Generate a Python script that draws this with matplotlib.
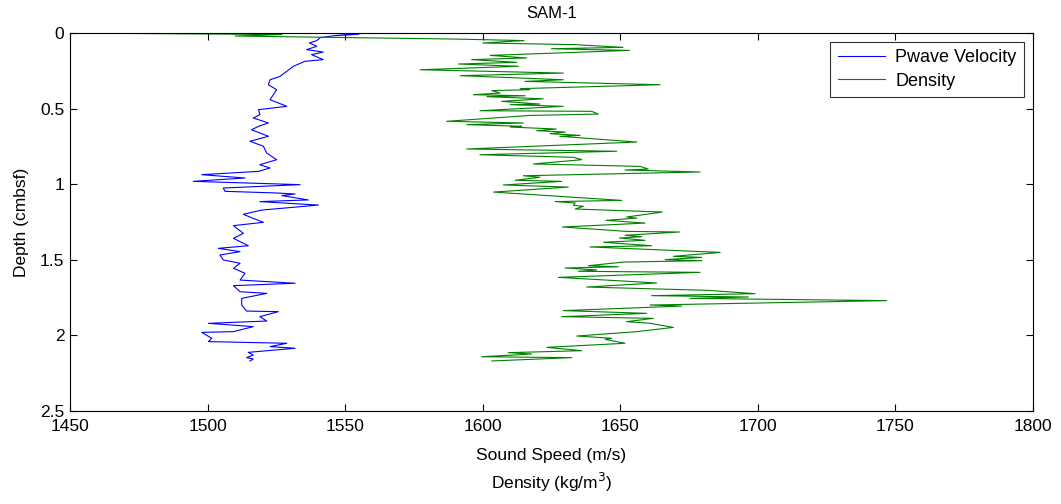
import matplotlib
matplotlib.use("Agg")
import matplotlib.pyplot as plt

plt.rcParams['font.family'] = ['Liberation Sans', 'DejaVu Sans']

# Pwave velocity profile (m/s) vs depth (cmbsf)
pwave_speed = [1540, 1555, 1546, 1541, 1539.7, 1537, 1539.7, 1536, 1542, 1537.8, 1542, 1535.4,
               1531.2, 1528.8, 1526.3, 1522.7, 1522.1, 1525.1, 1523.9, 1522.7, 1528.8, 1518.5,
               1519, 1516.6, 1522.1, 1518.5, 1516, 1522.1, 1515.4, 1520.3, 1521.5, 1525.1, 1519,
               1522.7, 1518.5, 1497.9, 1513.6, 1494.8, 1533.6, 1505.7, 1506.3, 1525.1, 1531.8,
               1527, 1536.6, 1519, 1540.3, 1519.7, 1513, 1516.6, 1520.3, 1509.4, 1513, 1509.4,
               1514.8, 1503.9, 1511.8, 1504.5, 1505.7, 1511.8, 1509.4, 1513.6, 1511.8, 1531.8,
               1509.4, 1511.8, 1521.5, 1512.4, 1512.4, 1514.2, 1525.7, 1519, 1521.5, 1500.3,
               1516.6, 1509.4, 1497.9, 1501.5, 1500.3, 1528.8, 1522.7, 1531.8, 1514.8, 1516.6,
               1514.2, 1516.6, 1515.4]
pwave_depth = [0.0, 0.008, 0.018, 0.03, 0.05, 0.066, 0.088, 0.11, 0.126, 0.143, 0.176, 0.187,
               0.22, 0.253, 0.287, 0.309, 0.342, 0.375, 0.408, 0.441, 0.485, 0.507,
               0.54, 0.562, 0.595, 0.617, 0.64, 0.683, 0.716, 0.749, 0.794, 0.838, 0.871,
               0.893, 0.915, 0.937, 0.959, 0.981, 1.003, 1.025, 1.047, 1.058, 1.065,
               1.075, 1.104, 1.115, 1.138, 1.171, 1.199, 1.226, 1.252, 1.274, 1.325, 1.358,
               1.407, 1.424, 1.446, 1.468, 1.501, 1.523, 1.556, 1.589, 1.634, 1.655,
               1.671, 1.711, 1.722, 1.755, 1.799, 1.839, 1.843, 1.876, 1.905, 1.92,
               1.942, 1.975, 1.98, 2.019, 2.041, 2.052, 2.074, 2.085, 2.112, 2.13,
               2.147, 2.156, 2.169]

# Density profile (kg/m^3) vs depth (cmbsf)
density_val = [1450, 1527, 1510, 1590, 1615, 1600, 1633.6, 1651, 1625, 1653.3, 1602.7, 1616,
               1596, 1612.4, 1591.2, 1613, 1577.2, 1629.3, 1591.8, 1629.3, 1615.4, 1664.5,
               1613.6, 1617.2, 1603.3, 1606.3, 1596.6, 1615.4, 1601.5, 1622, 1606.9, 1620.8,
               1610, 1629.3, 1599, 1639.6, 1642, 1617.2, 1586.9, 1614.8, 1594.2, 1614.2, 1610,
               1626.7, 1619.6, 1630, 1624.5, 1635.4, 1628, 1656, 1594.2, 1648.7, 1599, 1633,
               1636, 1618.4, 1657.2, 1660.2, 1651.7, 1679, 1614.8, 1620.8, 1611.8, 1628.7,
               1607.5, 1631.1, 1603.9, 1650.5, 1626.3, 1633.6, 1633, 1636.6, 1633.6, 1665.3,
               1652.3, 1656, 1644.8, 1659, 1629, 1652.3, 1671.5, 1651.7, 1657.8, 1649.7, 1659,
               1643.9, 1661.4, 1639, 1686.3, 1669.3, 1679.6, 1666.3, 1679.6, 1651.1, 1638.4,
               1649.3, 1629.9, 1641.4, 1634.8, 1679, 1627.5, 1663.2, 1637.8, 1682, 1699,
               1661.4, 1696.6, 1675.4, 1746.8, 1660.8, 1672.3, 1629.3, 1659.6, 1628.7, 1662,
               1652.3, 1660.8, 1669.3, 1656, 1634.2, 1646.9, 1644.5, 1651.7, 1623.3, 1636,
               1609.3, 1617.8, 1599.6, 1632.4, 1603.3]
density_depth = [0.0, 0.01, 0.02, 0.04, 0.05, 0.066, 0.077, 0.095, 0.104, 0.115, 0.148, 0.165,
                 0.176, 0.194, 0.205, 0.22, 0.243, 0.265, 0.282, 0.309, 0.32, 0.342,
                 0.368, 0.375, 0.381, 0.397, 0.408, 0.415, 0.421, 0.435, 0.452, 0.47,
                 0.474, 0.485, 0.514, 0.518, 0.536, 0.545, 0.584, 0.595, 0.606, 0.617, 0.622,
                 0.635, 0.646, 0.655, 0.666, 0.677, 0.683, 0.721, 0.767, 0.782, 0.805, 0.822,
                 0.838, 0.866, 0.882, 0.9, 0.906, 0.919, 0.944, 0.954, 0.974, 0.981,
                 1.005, 1.019, 1.052, 1.107, 1.115, 1.124, 1.14, 1.146, 1.164, 1.184,
                 1.217, 1.224, 1.239, 1.257, 1.283, 1.312, 1.316, 1.338, 1.347, 1.356, 1.371,
                 1.384, 1.407, 1.415, 1.451, 1.477, 1.484, 1.499, 1.506, 1.515, 1.539,
                 1.546, 1.554, 1.567, 1.576, 1.583, 1.616, 1.653, 1.68, 1.702, 1.724,
                 1.737, 1.746, 1.755, 1.77, 1.799, 1.806, 1.836, 1.854, 1.876, 1.887,
                 1.909, 1.92, 1.947, 1.975, 2.004, 2.019, 2.026, 2.052, 2.079, 2.101,
                 2.114, 2.123, 2.141, 2.147, 2.169]

x_ticks = [1450, 1500, 1550, 1600, 1650, 1700, 1750, 1800]
y_ticks = [0, 0.5, 1, 1.5, 2, 2.5]
y_ticklabels = ["0", "0.5", "1", "1.5", "2", "2.5"]

fig = plt.figure(figsize=(10.61, 5.04), dpi=100)
ax = fig.add_axes([0.066, 0.1845, 0.9076, 0.75])

ax.plot(pwave_speed, pwave_depth, color=(0, 0, 1), lw=0.8, label="Pwave Velocity")
ax.plot(density_val, density_depth, color=(0, 0.5, 0), lw=0.8, label="Density")

ax.set_xlim(1450, 1800)
ax.set_ylim(2.5, 0)
ax.set_xticks(x_ticks)
ax.set_yticks(y_ticks)
ax.set_yticklabels(y_ticklabels)
ax.tick_params(direction='in', top=True, right=True, labelsize=12.5, length=5, width=0.8)
ax.tick_params(axis='x', pad=6)
ax.tick_params(axis='y', pad=4)
for s in ax.spines.values():
    s.set_linewidth(0.8)

ax.set_title("SAM-1", fontsize=12, pad=11)
ax.set_xlabel("Sound Speed (m/s)\nDensity (kg/m$^3$)", fontsize=12.5, linespacing=1.45, labelpad=10)
ax.set_ylabel("Depth (cmbsf)", fontsize=12.5, labelpad=8)

leg = ax.legend(loc='upper right', fontsize=13, frameon=True, fancybox=False,
                edgecolor='black', borderaxespad=0.5, handlelength=2.6, labelspacing=0.35,
                borderpad=0.4, handletextpad=0.6)
leg.get_frame().set_linewidth(0.8)

fig.savefig("out.png", dpi=100, facecolor='white')
